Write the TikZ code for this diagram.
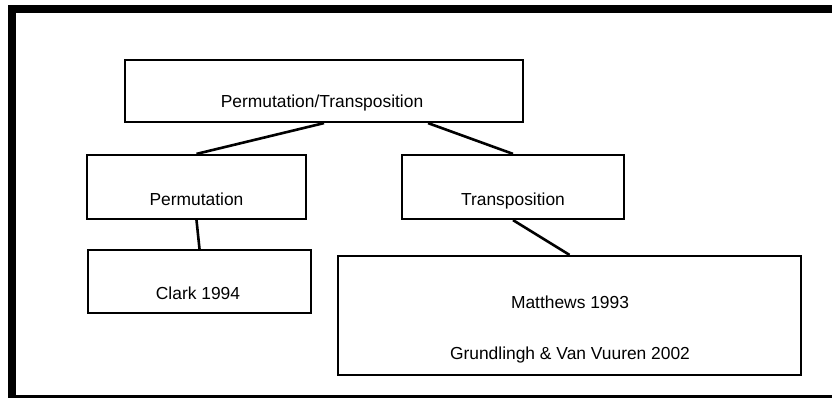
\documentclass[tikz,border=0pt]{standalone}
\usepackage{fontspec}
\setmainfont{Liberation Sans}
\usetikzlibrary{calc}
\begin{document}
\begin{tikzpicture}[x=1pt,y=-1pt,
  box/.style={draw=black,line width=2.2pt,rectangle,inner sep=0pt},
  txt/.style={anchor=base,inner sep=0pt,font=\fontsize{17.4}{20}\selectfont},
  link/.style={draw=black,line width=2.6pt}]
  \useasboundingbox (0,0) rectangle (832,398);
  % heavy frame, open at the right and running past the bottom edge
  \draw[line width=8.5pt] (12,9) rectangle (845,399.5);

  % boxes
  \node[box,minimum width=398pt,minimum height=62pt] (top)   at (324,91)    {};
  \node[box,minimum width=219pt,minimum height=64pt] (perm)  at (196.5,187) {};
  \node[box,minimum width=222pt,minimum height=64pt] (trans) at (513,187)   {};
  \node[box,minimum width=223pt,minimum height=63pt] (clark) at (199.5,281.5) {};
  \node[box,minimum width=463pt,minimum height=119pt] (lit)  at (569.5,315.5) {};

  % labels
  \node[txt] (ttop)   at (322,108)   {Permutation/Transposition};
  \node[txt] (tperm)  at (196.5,205) {Permutation};
  \node[txt] (ttrans) at (513,205)   {Transposition};
  \node[txt] (tclark) at (198,299)   {Clark 1994};
  \node[txt] (tmat)   at (570,308)   {Matthews 1993};
  \node[txt] (tgru)   at (570,359)   {Grundlingh \& Van Vuuren 2002};

  % connectors
  \draw[link] (top.south) -- (perm.north);
  \draw[link] ($(top.south west)!0.76!(top.south east)$) -- (trans.north);
  \draw[link] (perm.south) -- (clark.north);
  \draw[link] (trans.south) -- (lit.north);
\end{tikzpicture}
\end{document}
